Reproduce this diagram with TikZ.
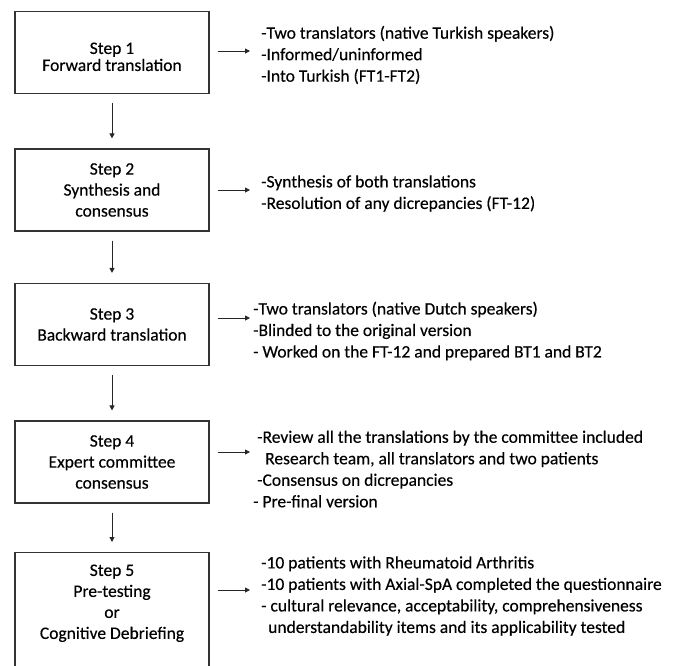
\documentclass[tikz,border=0pt]{standalone}
\usepackage{fontspec}
\setmainfont{Carlito}[FakeBold=0.3]
\usetikzlibrary{arrows.meta}

\tikzset{
  stepbox/.style={draw=black!80, line width=1.1pt, minimum width=194pt, minimum height=82pt,
    inner sep=0pt, align=center, font=\fontsize{17.5}{21}\selectfont},
  notes/.style={anchor=west, inner sep=0pt, align=left, font=\fontsize{17.5}{21.5}\selectfont},
  arr/.style={-{Triangle[length=5pt,width=5pt]}, line width=0.9pt, black!85},
}

\begin{document}
\begin{tikzpicture}[x=1pt,y=-1pt]
    \useasboundingbox (0,0) rectangle (675,665);
    % steps
    \node[stepbox] (b1) at (112,52.5) {\rule{0pt}{20pt}Step 1\\[-4pt]Forward translation};
    \node[stepbox] (b2) at (112,190) {Step 2\\Synthesis and\\consensus};
    \node[stepbox] (b3) at (112,324.5) {Step 3\\Backward translation};
    \node[stepbox] (b4) at (112,462) {Step 4\\Expert committee\\consensus};
    \node[stepbox, anchor=north, inner ysep=12pt] (b5) at (112,552) {Step 5\\Pre-testing\\or\\Cognitive Debriefing\\[30pt]\mbox{}};
    \foreach \a/\b in {b1/b2,b2/b3,b3/b4,b4/b5}
        \draw[arr, shorten <=9pt, shorten >=10pt] (\a) -- (\b);
    % notes
    \node[notes] (t1) at (261,55) {-Two translators (native Turkish speakers)\\-Informed/uninformed\\-Into Turkish (FT1-FT2)};
    \node[notes] (t2) at (261,193.5) {-Synthesis of both translations\\-Resolution of any dicrepancies (FT-12)};
    \node[notes] (t3) at (253,331) {-Two translators (native Dutch speakers)\\-Blinded to the original version\\- Worked on the FT-12 and prepared BT1 and BT2};
    \node[notes] (t4) at (253,469) {\hspace*{4pt}-Review all the translations by the committee included\\\hspace*{12pt}Research team, all translators and two patients\\\hspace*{4pt}-Consensus on dicrepancies\\- Pre-final version};
    \node[notes] (t5) at (261,596) {-10 patients with Rheumatoid Arthritis\\-10 patients with Axial-SpA completed the questionnaire\\- cultural relevance, acceptability, comprehensiveness\\\hspace*{7pt}understandability items and its applicability tested};
    \coordinate (a1) at (250,51);
    \coordinate (a2) at (250,190);
    \coordinate (a3) at (250,318);
    \coordinate (a4) at (250,452);
    \coordinate (a5) at (250,590);
    \foreach \i in {1,...,5}
        \draw[arr, shorten <=8pt] (b\i.east |- a\i) -- (a\i);
\end{tikzpicture}
\end{document}
